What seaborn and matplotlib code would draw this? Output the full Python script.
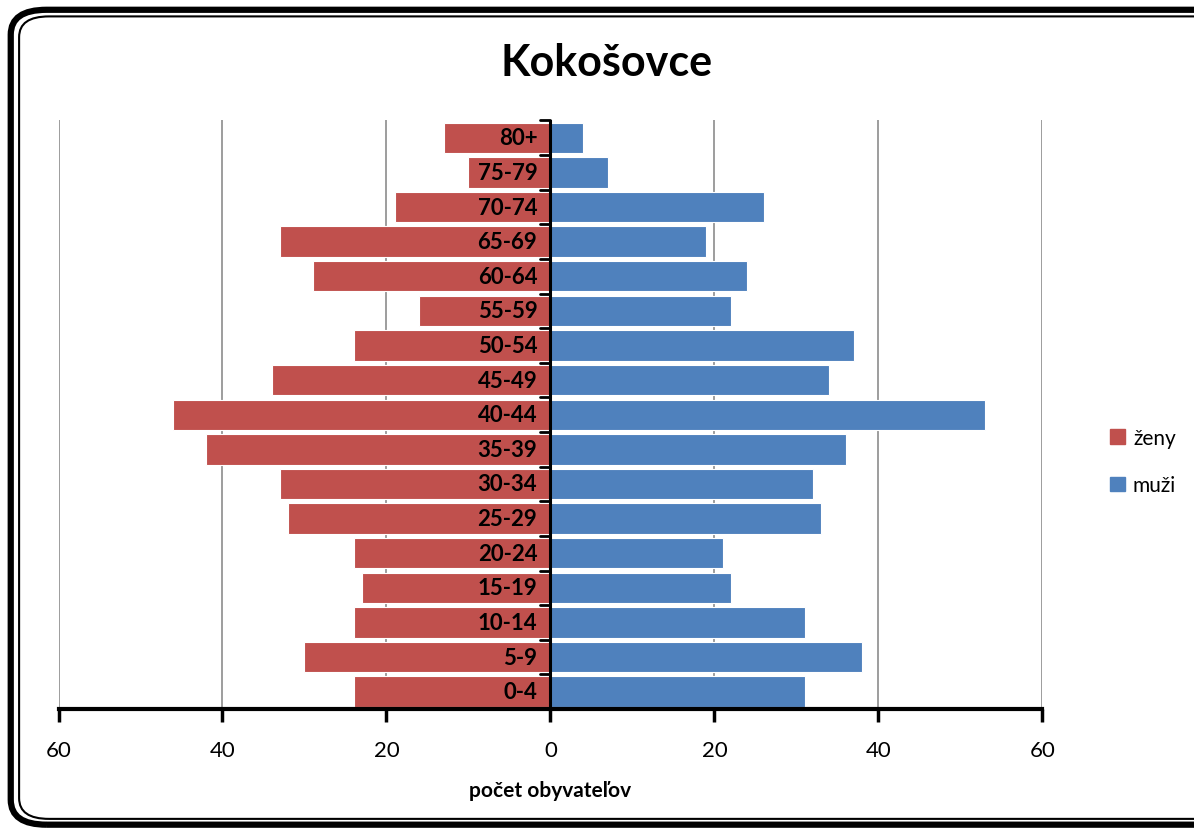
import numpy as np
import pandas as pd
import seaborn as sns
import matplotlib.pyplot as plt
from matplotlib.patches import FancyBboxPatch, Patch

# age groups from top to bottom
vek = ['80+', '75-79', '70-74', '65-69', '60-64', '55-59', '50-54', '45-49',
       '40-44', '35-39', '30-34', '25-29', '20-24', '15-19', '10-14', '5-9', '0-4']
zeny = [13, 10, 19, 33, 29, 16, 24, 34, 46, 42, 33, 32, 24, 23, 24, 30, 24]
muzi = [4, 7, 26, 19, 24, 22, 37, 34, 53, 36, 32, 33, 21, 22, 31, 38, 31]

df = pd.DataFrame({'vek': vek, 'zeny': [-z for z in zeny], 'muzi': muzi})

red = '#C0504D'
blue = '#4F81BD'

sns.set_style('white')
plt.rcParams['font.family'] = ['Lato', 'DejaVu Sans']
plt.rcParams['text.color'] = 'black'
plt.rcParams['axes.labelcolor'] = 'black'
plt.rcParams['xtick.color'] = 'black'
plt.rcParams['xtick.labelcolor'] = 'black'

fig = plt.figure(figsize=(11.94, 8.29), dpi=100)
ax = fig.add_axes([0.049, 0.1435, 0.824, 0.71])

sns.barplot(data=df, y='vek', x='zeny', order=vek, orient='h', color=red,
            saturation=1, width=0.88, edgecolor='white', linewidth=0.8, ax=ax)
sns.barplot(data=df, y='vek', x='muzi', order=vek, orient='h', color=blue,
            saturation=1, width=0.88, edgecolor='white', linewidth=0.8, ax=ax)

ax.set_xlim(-60, 60)
ax.set_ylim(len(vek) - 0.5, -0.5)
ax.set_xticks([-60, -40, -20, 0, 20, 40, 60])
ax.set_xticklabels(['60', '40', '20', '0', '20', '40', '60'], fontsize=16)
for v in [-60, -40, -20, 20, 40, 60]:
    ax.axvline(v, color='#8c8c8c', lw=1.2, zorder=0)
ax.axvline(0, color='black', lw=2.2, zorder=3)

ax.set_yticks([])
# small tick marks on the center axis
for b in np.arange(len(vek) + 1) - 0.5:
    ax.plot([-1.3, 0], [b, b], color='black', lw=2, zorder=4, clip_on=False)

for i, lab in enumerate(vek):
    ax.text(-1.6, i, lab, ha='right', va='center', fontsize=16,
            fontweight='bold', zorder=5)

for s in ['top', 'right', 'left']:
    ax.spines[s].set_visible(False)
ax.spines['bottom'].set_linewidth(3)
ax.spines['bottom'].set_color('black')
ax.tick_params(axis='x', length=9, width=2.5, color='black', direction='out',
               pad=13, bottom=True)

ax.set_xlabel('počet obyvateľov', fontsize=15, fontweight='bold', labelpad=15)
ax.set_ylabel('')

fig.text(0.508, 0.924, 'Kokošovce', ha='center', va='center',
         fontsize=31, fontweight='bold')

handles = [Patch(color=red, label='ženy'), Patch(color=blue, label='muži')]
fig.legend(handles=handles, loc='center left', bbox_to_anchor=(0.914, 0.442),
           frameon=False, fontsize=15, handlelength=0.7, handleheight=0.7,
           handletextpad=0.4, labelspacing=1.3)

# rounded double frame
outer = FancyBboxPatch((0.009, 0.004), 1.05, 0.983,
                       boxstyle='round,pad=0,rounding_size=0.03',
                       transform=fig.transFigure, fill=False, lw=4.5,
                       edgecolor='black', clip_on=False)
inner = FancyBboxPatch((0.016, 0.011), 1.05, 0.968,
                       boxstyle='round,pad=0,rounding_size=0.025',
                       transform=fig.transFigure, fill=False, lw=1.5,
                       edgecolor='black', clip_on=False)
fig.patches.extend([outer, inner])

fig.savefig('out.png', dpi=100)
